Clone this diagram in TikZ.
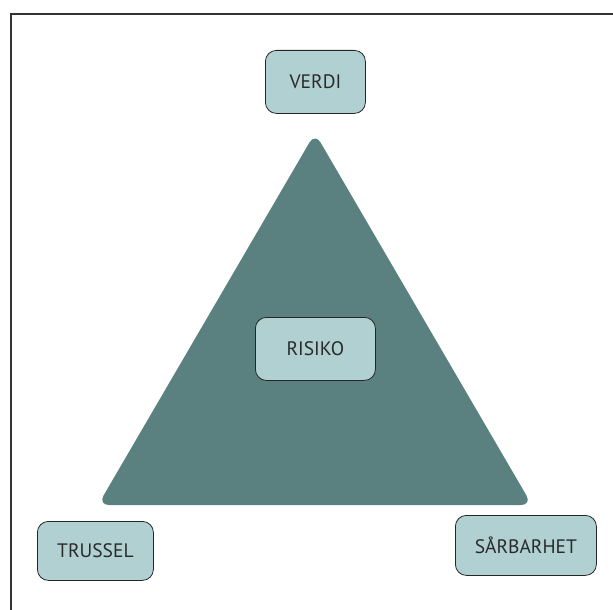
\documentclass[tikz,border=0pt]{standalone}
\usepackage{fontspec}
\setmainfont{PT Sans}
\begin{document}
\begin{tikzpicture}[x=1pt,y=-1pt,
  tri/.style={fill=tealgray,draw=none,rounded corners=11pt},
  lbl/.style={draw=black!85,line width=0.8pt,fill=boxfill,rounded corners=11pt,
    text=textgray,font=\fontsize{19.5}{22}\selectfont,inner sep=0pt,anchor=north west}]
\definecolor{tealgray}{HTML}{5A8080}
\definecolor{boxfill}{HTML}{B1D0D2}
\definecolor{textgray}{HTML}{2A2A2A}
\useasboundingbox (0,0) rectangle (613,610);
% frame
\draw[line width=1.3pt,black!80] (11,610) -- (11,14) -- (613,14);
% triangle
\coordinate (apex) at (315,133);
\coordinate (bl) at (98,505);
\coordinate (br) at (532,505);
\fill[tri] (apex) -- (br) -- (bl) -- cycle;
% labels
\node[lbl,minimum width=100pt,minimum height=63pt] (verdi) at (265,50) {VERDI};
\node[lbl,minimum width=120pt,minimum height=63pt] (risiko) at (255,317) {RISIKO};
\node[lbl,minimum width=116pt,minimum height=59pt] (trussel) at (37,521) {TRUSSEL};
\node[lbl,minimum width=141pt,minimum height=60pt] (sarbarhet) at (455,515) {SÅRBARHET};
\end{tikzpicture}
\end{document}
